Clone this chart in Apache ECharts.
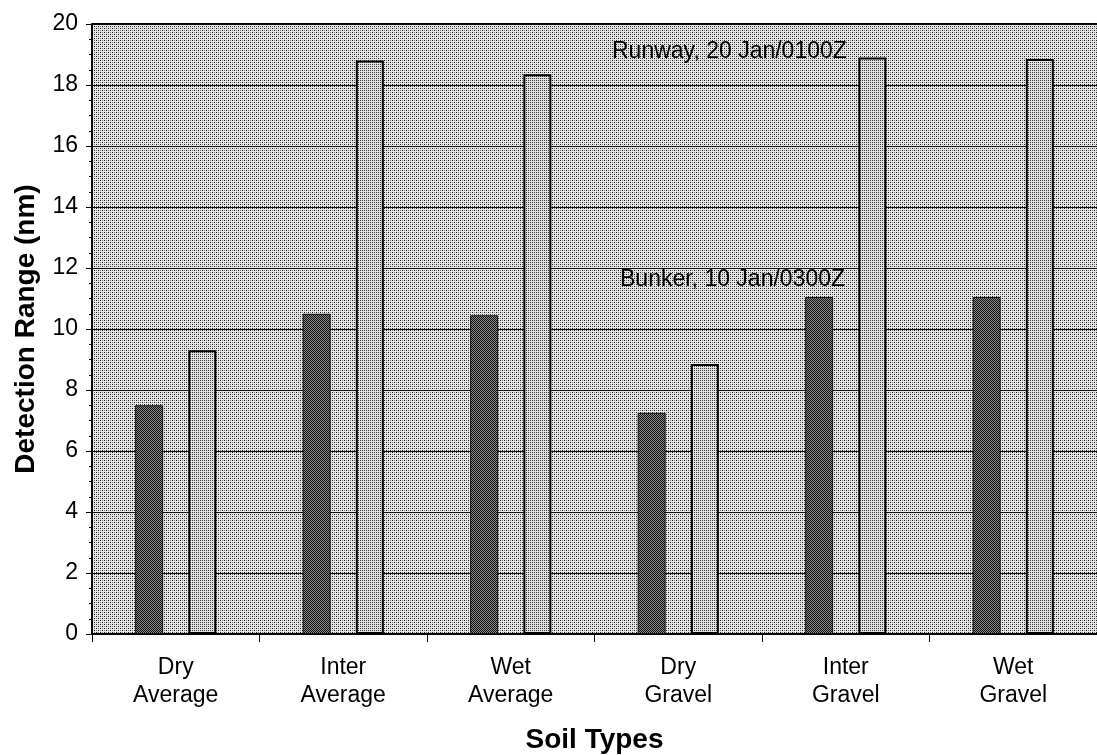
<!DOCTYPE html>
<html><head><meta charset="utf-8">
<script src="https://cdn.jsdelivr.net/npm/echarts@6/dist/echarts.min.js"></script>
<style>html,body{margin:0;padding:0;background:#fff}#c{width:1097px;height:755px}</style>
</head><body><div id="c"></div>
<script>
const categories = ['Dry\nAverage','Inter\nAverage','Wet\nAverage','Dry\nGravel','Inter\nGravel','Wet\nGravel'];
const bunkerValues = [7.5, 10.5, 10.45, 7.25, 11.05, 11.05];
const runwayValues = [9.3, 18.8, 18.35, 8.85, 18.9, 18.85];
const seriesNames = ['Bunker, 10 Jan/0300Z', 'Runway, 20 Jan/0100Z'];

function makePattern(size, bg, dots) {
  const c = document.createElement('canvas');
  c.width = size; c.height = size;
  const g = c.getContext('2d');
  g.fillStyle = bg; g.fillRect(0,0,size,size);
  dots.forEach(d => { g.fillStyle = d[2]; g.fillRect(d[0], d[1], 1, 1); });
  return {image: c, repeat: 'repeat'};
}
const bgPattern = makePattern(4, '#e6e6e6', [[0,0,'#1a1a1a'],[2,2,'#1a1a1a'],[2,0,'#7a7a7a'],[0,2,'#7a7a7a']]);
const darkPattern = makePattern(2, '#8a8a8a', [[0,0,'#111'],[1,1,'#111']]);
const lightPattern = makePattern(2, '#e2e2e2', [[0,0,'#3a3a3a']]);

const FONT = 'Liberation Sans, Arial, sans-serif';
const chart = echarts.init(document.getElementById('c'), null, {renderer: 'canvas'});
chart.setOption({
  animation: false,
  backgroundColor: '#fff',
  grid: {left: 92, right: 0, top: 24, bottom: 121, show: true, backgroundColor: bgPattern, borderWidth: 0,
         containLabel: false, outerBoundsMode: 'none'},
  xAxis: {
    type: 'category', data: categories,
    axisLine: {lineStyle: {color: '#000', width: 2}},
    axisTick: {show: true, length: 8, lineStyle: {color: '#000', width: 1}},
    axisLabel: {color: '#000', fontSize: 23, fontFamily: FONT, lineHeight: 28, margin: 20},
    name: 'Soil Types', nameLocation: 'middle', nameGap: 92,
    nameTextStyle: {color: '#000', fontSize: 28, fontWeight: 'bold', fontFamily: FONT}
  },
  yAxis: {
    type: 'value', min: 0, max: 20, interval: 2,
    axisLine: {show: true, lineStyle: {color: '#000', width: 2}},
    axisTick: {show: true, length: 6, lineStyle: {color: '#000'}},
    minorTick: {show: true, splitNumber: 4, length: 3, lineStyle: {color: '#000'}},
    splitLine: {show: true, lineStyle: {color: '#111', width: 1.2}},
    axisLabel: {color: '#000', fontSize: 23, fontFamily: FONT, margin: 14},
    name: 'Detection Range (nm)', nameLocation: 'middle', nameGap: 52, nameRotate: 90,
    nameTextStyle: {color: '#000', fontSize: 28, fontWeight: 'bold', fontFamily: FONT}
  },
  series: [
    {name: seriesNames[0], type: 'bar', data: bunkerValues, barWidth: 28, barGap: '90%',
     itemStyle: {color: darkPattern, borderColor: '#111', borderWidth: 1}},
    {name: seriesNames[1], type: 'bar', data: runwayValues, barWidth: 28,
     itemStyle: {color: lightPattern, borderColor: '#000', borderWidth: 2}}
  ],
  graphic: [
    {type: 'line', shape: {x1: 92, y1: 24, x2: 1097, y2: 24}, style: {stroke: '#000', lineWidth: 2}, z: 10},
    {type: 'text', left: 612, top: 40, style: {text: seriesNames[1], fontSize: 23, fill: '#000', fontFamily: FONT}, z: 10},
    {type: 'text', left: 620, top: 268, style: {text: seriesNames[0], fontSize: 23, fill: '#000', fontFamily: FONT}, z: 10}
  ]
});
</script></body></html>
